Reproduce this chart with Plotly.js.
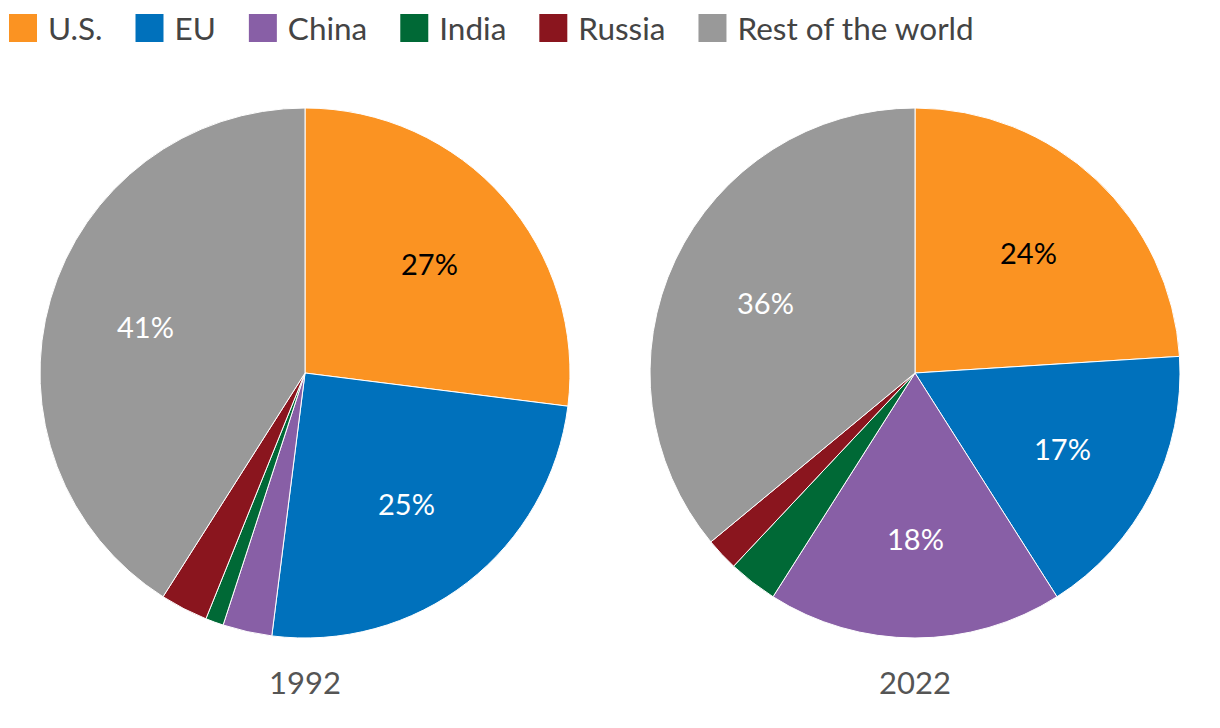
<!DOCTYPE html>
<html>
<head>
<meta charset="utf-8">
<script src="https://cdn.plot.ly/plotly-3.0.1.min.js"></script>
<style>
  html, body { margin: 0; padding: 0; background: #fff; }
  #chart { width: 1220px; height: 728px; }
</style>
</head>
<body>
<div id="chart"></div>
<script>
// ---- data ----
const regions = ['U.S.', 'EU', 'China', 'India', 'Russia', 'Rest of the world'];
const years = ['1992', '2022'];
const share1992 = [27, 25, 3, 1.1, 2.9, 41];
const share2022 = [24, 17, 18, 3, 2, 36];
const regionColors = ['#FB9322', '#0071BC', '#885FA6', '#006936', '#8A151E', '#999999'];
const labelColors = ['#000000', '#ffffff', '#ffffff', '#ffffff', '#ffffff', '#ffffff'];

const FONT = 'Lato, "Open Sans", sans-serif';
const W = 1220, H = 728;

const pieDomainsX = [[40 / W, 570 / W], [650 / W, 1180 / W]];
const pieDomainY = [90 / H, 620 / H];
const seriesList = [share1992, share2022];

function pieTrace(vals, domainX, showLegend) {
  return {
    type: 'pie',
    labels: regions,
    values: vals,
    textinfo: 'none',
    sort: false,
    direction: 'clockwise',
    rotation: 0,
    marker: { colors: regionColors, line: { color: '#ffffff', width: 1 } },
    domain: { x: domainX, y: pieDomainY },
    showlegend: showLegend,
    hoverinfo: 'label+percent'
  };
}

const data = seriesList.map((vals, i) => pieTrace(vals, pieDomainsX[i], i === 0));

// percentage labels placed along each slice's bisector (derived from the values)
const annotations = [];
seriesList.forEach((vals, i) => {
  const dx = pieDomainsX[i], dy = pieDomainY;
  const cxPx = (dx[0] + dx[1]) / 2 * W;
  const cyPx = (1 - (dy[0] + dy[1]) / 2) * H;
  const rPx = Math.min((dx[1] - dx[0]) * W, (dy[1] - dy[0]) * H) / 2;
  const total = vals.reduce((a, b) => a + b, 0);
  let cum = 0;
  vals.forEach((v, j) => {
    const mid = (cum + v / 2) / total * 2 * Math.PI;
    cum += v;
    if (v < 5) return;
    const px = cxPx + 0.625 * rPx * Math.sin(mid);
    const py = cyPx - 0.625 * rPx * Math.cos(mid);
    annotations.push({
      text: Math.round(v / total * 100) + '%',
      xref: 'paper', yref: 'paper',
      x: px / W, y: 1 - py / H,
      xanchor: 'center', yanchor: 'middle',
      showarrow: false,
      font: { family: FONT, size: 29, color: labelColors[j] }
    });
  });
  annotations.push({
    text: years[i],
    xref: 'paper', yref: 'paper',
    x: cxPx / W,
    y: dy[0] - 44 / H,
    xanchor: 'center', yanchor: 'middle',
    showarrow: false,
    font: { family: FONT, size: 31, color: '#555555' }
  });
});

const layout = {
  width: W,
  height: H,
  margin: { l: 0, r: 0, t: 0, b: 0, autoexpand: false },
  paper_bgcolor: '#ffffff',
  font: { family: FONT, color: '#444444' },
  showlegend: true,
  annotations: annotations,
  legend: {
    orientation: 'h',
    x: 0,
    xanchor: 'left',
    y: 1,
    yanchor: 'top',
    itemwidth: 39,
    font: { family: FONT, size: 31.5, color: '#444444' },
    traceorder: 'normal'
  }
};

// enlarge legend swatches and spread entries like the reference
function fixLegend(gd) {
  gd.querySelectorAll('.legend [clip-path]').forEach(el => el.removeAttribute('clip-path'));
  const items = Array.from(gd.querySelectorAll('.legend .traces'));
  let nextX = null;
  items.forEach(tr => {
    const text = tr.querySelector('text.legendtext');
    const p = tr.querySelector('path.legendpie');
    if (!text || !p) return;
    const tx = parseFloat(text.getAttribute('x'));
    p.setAttribute('transform', 'translate(' + (tx - 11 - 14) + ',0) scale(2.3333)');
    p.style.strokeWidth = '0';
    const m = /translate\(\s*([-\d.]+)[ ,]+([-\d.]+)\s*\)/.exec(tr.getAttribute('transform') || '');
    const y = m ? parseFloat(m[2]) + 1 : 0;
    const x0 = m ? parseFloat(m[1]) - 1 : 0;
    const x = nextX === null ? x0 : nextX;
    tr.setAttribute('transform', 'translate(' + x + ',' + y + ')');
    const swatchLeft = tx - 39;
    nextX = x + tx + text.getComputedTextLength() + 33 - swatchLeft;
  });
}

Plotly.newPlot('chart', data, layout, { staticPlot: true, displayModeBar: false }).then(fixLegend);
</script>
</body>
</html>
